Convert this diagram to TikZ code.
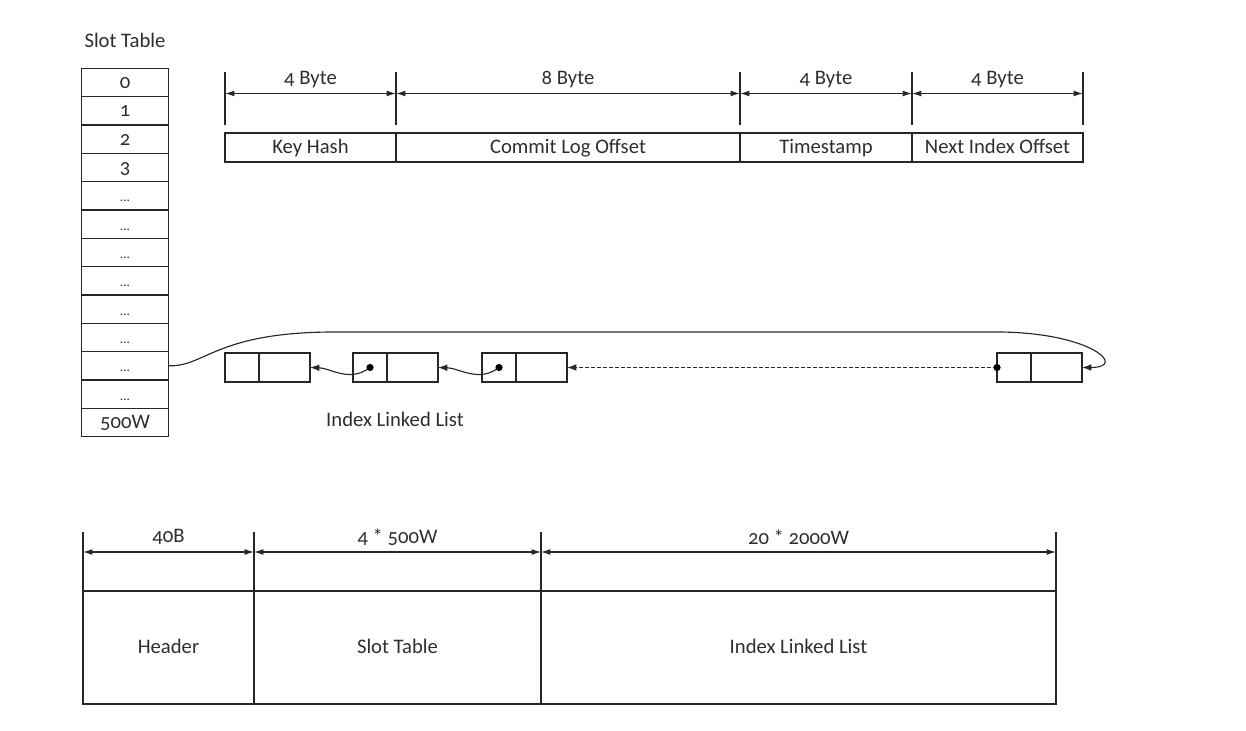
\documentclass[tikz,border=0pt]{standalone}
\usepackage{fontspec}
\setmainfont{Carlito}[Numbers=OldStyle]
\usetikzlibrary{arrows.meta}
\begin{document}
\begin{tikzpicture}[x=0.75pt,y=-0.75pt,
  txt/.style={font=\fontsize{15.5}{18}\selectfont, text=black!82},
  cell/.style={draw=black!85, line width=0.85pt, inner sep=0pt, outer sep=0pt, txt, text height=0.95em, text depth=0.06em},
  tick/.style={draw=black!85, line width=0.85pt},
  dim/.style={draw=black!85, line width=0.85pt, {Latex[length=7pt,width=4.4pt]}-{Latex[length=7pt,width=4.4pt]}},
  conn/.style={draw=black!85, line width=0.85pt, -{Latex[length=7pt,width=5pt]}},
  dotmark/.style={fill=black}]
\useasboundingbox (0,0) rectangle (1246,731);
\def\dd{\fontsize{10}{12}\selectfont ...}

% Slot table
\node[txt] (stlabel) at (125,40) {Slot Table};
\foreach \l [count=\i from 0] in {0,1,2,3,\dd,\dd,\dd,\dd,\dd,\dd,\dd,\dd,500W} {
  \node[cell, minimum width=65pt, minimum height=21.25pt] (s\i) at (125,{82.5+28.33*\i}) {\l};
}

% Record layout
\foreach \x/\n in {225/t0,396/t1,740/t2,912/t3,1083/t4} {
  \coordinate (\n a) at (\x,72);
  \coordinate (\n b) at (\x,125);
  \coordinate (\n m) at (\x,93.5);
  \draw[tick] (\n a) -- (\n b);
}
\draw[dim] (t0m) -- (t1m);
\draw[dim] (t1m) -- (t2m);
\draw[dim] (t2m) -- (t3m);
\draw[dim] (t3m) -- (t4m);
\node[txt] (l1) at (310.5,80) {4 Byte};
\node[txt] (l2) at (568,80) {8 Byte};
\node[txt] (l3) at (826,80) {4 Byte};
\node[txt] (l4) at (997.5,80) {4 Byte};
\node[cell, minimum width=128.25pt, minimum height=21.75pt] (kh) at (310.5,147.5) {Key Hash};
\node[cell, minimum width=258pt, minimum height=21.75pt] (clo) at (568,147.5) {Commit Log Offset};
\node[cell, minimum width=129pt, minimum height=21.75pt] (ts) at (826,147.5) {Timestamp};
\node[cell, minimum width=128.25pt, minimum height=21.75pt] (nio) at (997.5,147.5) {Next Index Offset};

% Linked list
\foreach \L/\k in {225/1,353/2,482/3,997/4} {
  \node[cell, minimum width=25.5pt, minimum height=21.75pt] (b\k a) at ({\L+17},367.5) {};
  \node[cell, minimum width=38.25pt, minimum height=21.75pt, anchor=west] (b\k b) at (b\k a.east) {};
}
\draw[conn] (b2a.center) .. controls (350,383) and (330,368) .. (b1b.east);
\draw[conn] (b3a.center) .. controls (479,383) and (459,368) .. (b2b.east);
\draw[conn, dashed, dash pattern=on 3pt off 1.5pt] (b4a.west) -- (b3b.east);
\fill[dotmark] (b2a.center) circle[radius=2.7pt];
\fill[dotmark] (b3a.center) circle[radius=2.7pt];
\fill[dotmark] (b4a.west) circle[radius=2.7pt];
\draw[conn] (s10.east) .. controls (205,367) and (215,333) .. (330,332)
  -- (1000,332) .. controls (1092,333) and (1128,367.5) .. (b4b.east);
\node[txt] (ill) at (395,419) {Index Linked List};

% File layout
\foreach \x/\n in {83/u0,254/u1,541/u2,1056/u3} {
  \coordinate (\n a) at (\x,532);
  \coordinate (\n b) at (\x,591);
  \coordinate (\n m) at (\x,552);
  \draw[tick] (\n a) -- (\n b);
}
\draw[dim] (u0m) -- (u1m);
\draw[dim] (u1m) -- (u2m);
\draw[dim] (u2m) -- (u3m);
\node[txt] (m1) at (168.5,537) {40B};
\node[txt] (m2) at (397.5,537) {4 * 500W};
\node[txt] (m3) at (798.5,537) {20 * 2000W};
\node[cell, minimum width=128.25pt, minimum height=84.75pt] (hd) at (168.5,647.5) {Header};
\node[cell, minimum width=215.25pt, minimum height=84.75pt] (stb) at (397.5,647.5) {Slot Table};
\node[cell, minimum width=386.25pt, minimum height=84.75pt] (ilb) at (798.5,647.5) {Index Linked List};
\end{tikzpicture}
\end{document}
